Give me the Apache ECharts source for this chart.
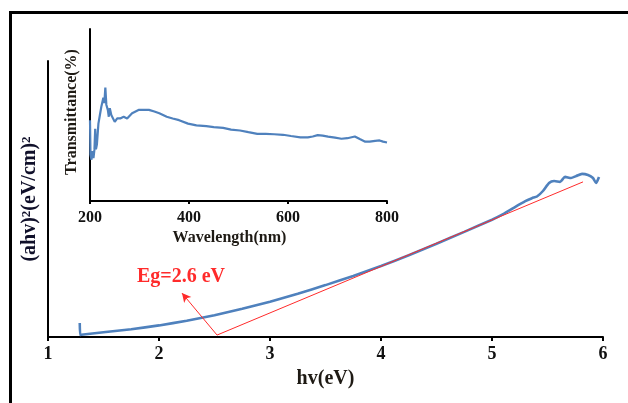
<!DOCTYPE html>
<html>
<head>
<meta charset="utf-8">
<script src="https://cdn.jsdelivr.net/npm/echarts@6/dist/echarts.min.js"></script>
<style>html,body{margin:0;padding:0;background:#fff;}#c{width:628px;height:403px;}</style>
</head>
<body>
<div id="c"></div>
<script>
// Main plot: (ahv)^2 vs hv
const mainXTicks = [1, 6];
const mainCurve = [
  [1.286, 5.1], [1.290, 0.7], [1.300, 0.8], [1.50, 1.7], [1.75, 2.8], [2.00, 4.2],
  [2.25, 5.9], [2.50, 7.9], [2.75, 10.2], [3.00, 12.8], [3.25, 15.7], [3.50, 18.8],
  [3.75, 22.1], [4.00, 25.7], [4.25, 29.6], [4.50, 33.8], [4.75, 38.1], [5.00, 42.5],
  [5.10, 44.5], [5.20, 46.9], [5.30, 49.2], [5.36, 50.3], [5.405, 50.9], [5.459, 52.9],
  [5.514, 55.8], [5.559, 56.5], [5.613, 56.2], [5.658, 58.0], [5.712, 57.6], [5.757, 58.3],
  [5.811, 59.1], [5.865, 58.7], [5.910, 57.6], [5.937, 55.8], [5.964, 58.0]
];
const tangentLine = [[2.523, 0.7], [5.82, 56.2]];
const arrowLine = [[2.523, 0.7], [2.207, 15.9]];
const egLabel = 'Eg=2.6 eV';

// Inset: transmittance vs wavelength
const insetXTicks = [200, 800];
const insetCurve = [
  [200, 47], [201, 27], [203, 24], [205, 29], [207, 25], [209, 30], [210.5, 42], [212, 30],
  [214, 33], [217, 45], [220, 50], [223, 55], [227, 60], [229, 57], [231, 66], [233, 56],
  [236, 53], [238, 49], [240, 54], [243, 50], [246, 51], [250, 46], [255, 48], [261, 48],
  [268, 49], [275, 48], [285, 51], [292, 52], [299, 53], [310, 53], [319, 53], [330, 52],
  [340, 51], [355, 49], [367, 48], [380, 47], [398, 45], [415, 44], [435, 43.5], [450, 43],
  [469, 42.5], [485, 41.5], [503, 41], [520, 40], [538, 39], [555, 39], [572, 38.8], [590, 38.5],
  [606, 37.8], [625, 37], [640, 37], [650, 37.5], [660, 38.3], [670, 38], [681, 37.4], [695, 36.8],
  [708, 36.2], [720, 36.5], [735, 37.5], [745, 36], [756, 34.5], [765, 34.5], [776, 35], [785, 35.2],
  [792, 34.5], [800, 34]
];

const serif = '"Liberation Serif", "Times New Roman", serif';
const blue = '#4f81bd';
const red = '#ff2b2b';

const chart = echarts.init(document.getElementById('c'), null, {renderer: 'canvas'});
chart.setOption({
  animation: false,
  backgroundColor: '#fff',
  grid: [
    {left: 48, right: 25, top: 61, bottom: 66},
    {left: 90, right: 241, top: 29, bottom: 202}
  ],
  xAxis: [
    {
      gridIndex: 0, type: 'value', min: mainXTicks[0], max: mainXTicks[1], interval: 1,
      name: 'hv(eV)', nameLocation: 'middle', nameGap: 32,
      nameTextStyle: {fontFamily: serif, fontWeight: 'bold', fontSize: 20, color: '#1e1a14'},
      axisLine: {lineStyle: {color: '#000', width: 2}},
      axisTick: {show: true, length: 4, lineStyle: {color: '#000', width: 2}},
      axisLabel: {fontFamily: serif, fontWeight: 'bold', fontSize: 18, color: '#111', margin: 8},
      splitLine: {show: false}
    },
    {
      gridIndex: 1, type: 'value', min: insetXTicks[0], max: insetXTicks[1], interval: 200,
      name: 'Wavelength(nm)', nameLocation: 'middle', nameGap: 29,
      nameTextStyle: {fontFamily: serif, fontWeight: 'bold', fontSize: 16, color: '#1e1a14', padding: [0, 18, 0, 0]},
      axisLine: {lineStyle: {color: '#000', width: 2}},
      axisTick: {show: true, length: 3, lineStyle: {color: '#000', width: 2}},
      axisLabel: {fontFamily: serif, fontWeight: 'bold', fontSize: 16, color: '#111', margin: 9},
      splitLine: {show: false}
    }
  ],
  yAxis: [
    {
      gridIndex: 0, type: 'value', min: 0, max: 100,
      name: '(ahv){s|2}(eV/cm){s|2}', nameLocation: 'middle', nameGap: 8,
      nameTextStyle: {
        fontFamily: serif, fontWeight: 'bold', fontSize: 20, color: '#10102a',
        rich: {s: {fontFamily: serif, fontWeight: 'bold', fontSize: 13, color: '#10102a', verticalAlign: 'top', lineHeight: 14}}
      },
      axisLine: {show: true, lineStyle: {color: '#000', width: 2}},
      axisTick: {show: false}, axisLabel: {show: false}, splitLine: {show: false}
    },
    {
      gridIndex: 1, type: 'value', min: 0, max: 100,
      name: 'Transmittance(%)', nameLocation: 'middle', nameGap: 10,
      nameTextStyle: {fontFamily: serif, fontWeight: 'bold', fontSize: 16, color: '#1e1a14', padding: [0, 0, 0, 6]},
      axisLine: {show: true, lineStyle: {color: '#000', width: 2}},
      axisTick: {show: false}, axisLabel: {show: false}, splitLine: {show: false}
    }
  ],
  series: [
    {
      type: 'line', xAxisIndex: 0, yAxisIndex: 0, data: mainCurve,
      showSymbol: false, smooth: 0.2, lineStyle: {color: blue, width: 2.6}, z: 3,
      markLine: {
        silent: true, animation: false,
        label: {show: false},
        lineStyle: {color: red, width: 1, type: 'solid'},
        data: [
          [{coord: tangentLine[0], symbol: 'none'}, {coord: tangentLine[1], symbol: 'none'}],
          [{coord: arrowLine[0], symbol: 'none'}, {coord: arrowLine[1], symbol: 'arrow', symbolSize: [7, 9]}]
        ]
      }
    },
    {
      type: 'line', xAxisIndex: 1, yAxisIndex: 1, data: insetCurve,
      showSymbol: false, lineStyle: {color: blue, width: 2.2}
    }
  ],
  graphic: [
    {
      type: 'polyline', silent: true,
      shape: {points: [[10.5, 403], [10.5, 12.5], [628, 12.5]]},
      style: {stroke: '#000', lineWidth: 3, fill: null}
    },
    {
      type: 'text', left: 137, top: 267, silent: true,
      style: {text: egLabel, fontFamily: serif, fontWeight: 'bold', fontSize: 20, fill: red}
    }
  ]
});
</script>
</body>
</html>
